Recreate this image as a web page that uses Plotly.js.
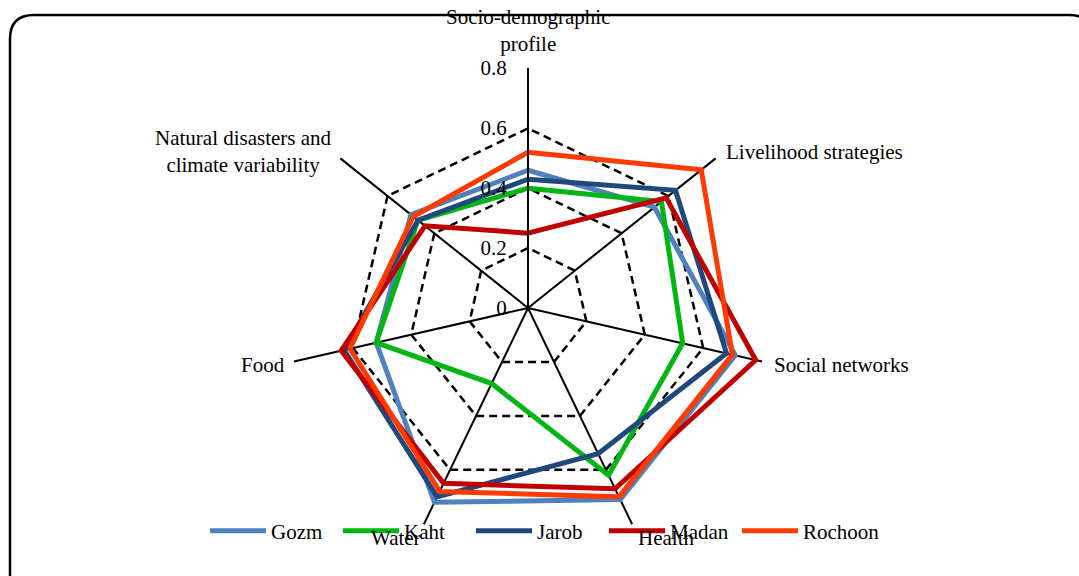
<!DOCTYPE html>
<html>
<head>
<meta charset="utf-8">
<script src="https://cdn.plot.ly/plotly-3.0.1.min.js"></script>
<style>
html,body{margin:0;padding:0;background:#fff;}
#chart{width:1079px;height:576px;}
#chart .legend .scrollbox{clip-path:none !important;}
</style>
</head>
<body>
<div id="chart"></div>
<script>
// ---- data ----
const categories = [
  "Socio-demographic<br>profile",
  "Livelihood strategies",
  "Social networks",
  "Health",
  "Water",
  "Food",
  "Natural disasters and<br>climate variability"
];
const seriesNames = ["Gozm", "Kaht", "Jarob", "Madan", "Rochoon"];
const gozm    = [0.46, 0.54, 0.71, 0.71, 0.72, 0.52, 0.50];
const kaht    = [0.40, 0.57, 0.53, 0.62, 0.28, 0.52, 0.47];
const jarob   = [0.43, 0.63, 0.68, 0.54, 0.70, 0.63, 0.47];
const madan   = [0.25, 0.59, 0.78, 0.67, 0.65, 0.64, 0.44];
const rochoon = [0.52, 0.74, 0.70, 0.70, 0.68, 0.61, 0.49];
const radialTicks = [0, 0.2, 0.4, 0.6, 0.8];
const radialTickText = ["0", "0.2", "0.4", "0.6", "0.8"];

// ---- styles ----
const colors = ["#4F81BD", "#00B612", "#1F497D", "#C00000", "#FF3A00"];
const W = 1079, H = 576;
const px = x => x / W;
const py = y => 1 - y / H;
const FONT = "Liberation Serif, Times New Roman, serif";

const allValues = [gozm, kaht, jarob, madan, rochoon];
const traces = allValues.map((vals, i) => ({
  type: "scatterpolar",
  mode: "lines",
  name: seriesNames[i],
  r: vals.concat([vals[0]]),
  theta: categories.concat([categories[0]]),
  line: {color: colors[i], width: 5},
  hoverinfo: "skip"
}));

// category label placement (pixel anchor of each label, Excel-like placement)
const labelPlacement = [
  {x: 528, y: 57,  xanchor: "center", yanchor: "bottom"},
  {x: 725, y: 152, xanchor: "left",   yanchor: "middle"},
  {x: 773, y: 365, xanchor: "left",   yanchor: "middle"},
  {x: 666, y: 538, xanchor: "center", yanchor: "middle"},
  {x: 396, y: 538, xanchor: "center", yanchor: "middle"},
  {x: 286, y: 365, xanchor: "right",  yanchor: "middle"},
  {x: 243, y: 152, xanchor: "center", yanchor: "middle"}
];
const annotations = categories.map((c, i) => ({
  text: c,
  xref: "paper", yref: "paper",
  x: px(labelPlacement[i].x), y: py(labelPlacement[i].y),
  xanchor: labelPlacement[i].xanchor, yanchor: labelPlacement[i].yanchor,
  align: "center",
  showarrow: false,
  borderpad: 0,
  font: {family: FONT, size: 21, color: "#000"}
}));

// frame (rounded rectangle)
const L = 10, T = 15, R = 1093, B = 592, rr = 24;
const framePath =
  `M ${px(L)},${py(B)} L ${px(L)},${py(T + rr)} Q ${px(L)},${py(T)} ${px(L + rr)},${py(T)} ` +
  `L ${px(R - rr)},${py(T)} Q ${px(R)},${py(T)} ${px(R)},${py(T + rr)} L ${px(R)},${py(B)}`;

const cx = 528, cy = 308, rad = 240;
const layout = {
  width: W, height: H,
  margin: {l: 0, r: 0, t: 0, b: 0, autoexpand: false},
  paper_bgcolor: "#fff",
  font: {family: FONT, size: 21, color: "#000"},
  showlegend: true,
  legend: {
    orientation: "h",
    x: px(205), xanchor: "left",
    y: py(531), yanchor: "middle",
    font: {family: FONT, size: 21, color: "#000"},
    bgcolor: "rgba(0,0,0,0)",
    itemwidth: 56,
    entrywidth: 62,
    traceorder: "normal"
  },
  polar: {
    domain: {x: [px(cx - rad), px(cx + rad)], y: [py(cy + rad), py(cy - rad)]},
    bgcolor: "#fff",
    gridshape: "linear",
    angularaxis: {
      type: "category",
      categoryarray: categories,
      rotation: 90,
      direction: "clockwise",
      showline: false,
      showgrid: true,
      gridcolor: "#000",
      gridwidth: 2,
      ticks: "",
      showticklabels: false
    },
    radialaxis: {
      range: [0, 0.8015],
      angle: 90,
      side: "counterclockwise",
      tickangle: 90,
      tickvals: radialTicks,
      ticktext: radialTickText,
      showline: true,
      linecolor: "#000",
      linewidth: 2,
      showgrid: true,
      gridcolor: "#000",
      gridwidth: 2.5,
      griddash: "8px,5px",
      ticks: "outside",
      ticklen: 13,
      tickcolor: "rgba(0,0,0,0)",
      tickfont: {family: FONT, size: 21, color: "#000"}
    }
  },
  annotations: annotations,
  shapes: [{
    type: "path", xref: "paper", yref: "paper",
    path: framePath,
    line: {color: "#000", width: 2.5},
    layer: "above"
  }]
};

Plotly.newPlot("chart", traces, layout, {displayModeBar: false, staticPlot: true});
</script>
</body>
</html>
